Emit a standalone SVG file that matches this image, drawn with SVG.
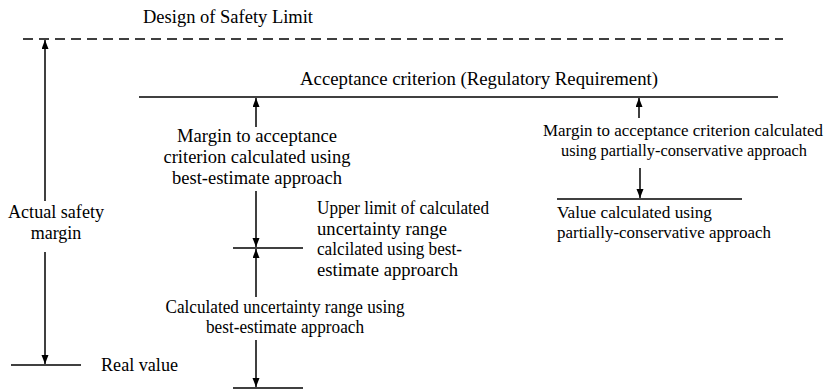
<svg xmlns="http://www.w3.org/2000/svg" width="829" height="392" viewBox="0 0 829 392">
<style>
  text { font-family: "Liberation Serif", "Times New Roman", serif; font-size: 18px; fill: #000; }
  .s { font-size: 17px; }
  .c { text-anchor: middle; }
  .ln { stroke: #000; stroke-width: 1.5; fill: none; }
  .dash { stroke-dasharray: 10 6; }
  .arr { stroke: #000; stroke-width: 1.5; fill: none; marker-end: url(#ah); }
</style>
<defs>
  <marker id="ah" markerUnits="userSpaceOnUse" markerWidth="10" markerHeight="8" refX="9" refY="3.5" orient="auto">
    <path d="M0,0 L9,3.5 L0,7 z" fill="#000"/>
  </marker>
</defs>
<rect width="829" height="392" fill="#fff"/>

<g id="design-limit">
  <line class="ln dash" x1="23" y1="39" x2="783" y2="39"/>
  <text x="143" y="23" textLength="170" lengthAdjust="spacingAndGlyphs">Design of Safety Limit</text>
</g>
<g id="acceptance">
  <line class="ln" x1="139" y1="97" x2="778" y2="97"/>
  <text x="300" y="85" textLength="358" lengthAdjust="spacingAndGlyphs">Acceptance criterion (Regulatory Requirement)</text>
</g>
<g id="actual-margin">
  <text class="c" x="56" y="218" textLength="96" lengthAdjust="spacingAndGlyphs">Actual safety</text>
  <text class="c" x="56" y="239">margin</text>
</g>
<g id="real-value">
  <line class="ln" x1="11" y1="365" x2="81" y2="365"/>
  <text x="101" y="371" textLength="77" lengthAdjust="spacingAndGlyphs">Real value</text>
</g>
<g id="margin-be">
  <text class="c" x="257" y="142" textLength="160" lengthAdjust="spacingAndGlyphs">Margin to acceptance</text>
  <text class="c" x="257" y="163" textLength="187" lengthAdjust="spacingAndGlyphs">criterion calculated using</text>
  <text class="c" x="257" y="184" textLength="170" lengthAdjust="spacingAndGlyphs">best-estimate approach</text>
</g>
<g id="upper-limit">
  <line class="ln" x1="233" y1="248" x2="303" y2="248"/>
  <text x="317" y="214" textLength="172" lengthAdjust="spacingAndGlyphs">Upper limit of calculated</text>
  <text x="317" y="235" textLength="130" lengthAdjust="spacingAndGlyphs">uncertainty range</text>
  <text x="317" y="255" textLength="145" lengthAdjust="spacingAndGlyphs">calcilated using best-</text>
  <text x="317" y="276" textLength="141" lengthAdjust="spacingAndGlyphs">estimate approarch</text>
</g>
<g id="uncertainty-range">
  <text class="c" x="285" y="313" textLength="239" lengthAdjust="spacingAndGlyphs">Calculated uncertainty range using</text>
  <text class="c" x="285" y="333" textLength="158" lengthAdjust="spacingAndGlyphs">best-estimate approach</text>
</g>
<g id="lower-limit">
  <line class="ln" x1="233" y1="388" x2="303" y2="388"/>
</g>
<g id="margin-pc">
  <text class="c s" x="683" y="136" textLength="280" lengthAdjust="spacingAndGlyphs">Margin to acceptance criterion calculated</text>
  <text class="c s" x="684" y="156" textLength="246" lengthAdjust="spacingAndGlyphs">using partially-conservative approach</text>
</g>
<g id="value-pc">
  <line class="ln" x1="557" y1="199" x2="742" y2="199"/>
  <text class="s" x="557" y="218" textLength="155" lengthAdjust="spacingAndGlyphs">Value calculated using</text>
  <text class="s" x="557" y="238" textLength="214" lengthAdjust="spacingAndGlyphs">partially-conservative approach</text>
</g>

<g id="connectors">
  <line class="arr" x1="45" y1="201" x2="45" y2="40"/>
  <line class="arr" x1="45" y1="252" x2="45" y2="364"/>
  <line class="arr" x1="256" y1="127" x2="256" y2="98"/>
  <line class="arr" x1="256" y1="191" x2="256" y2="247"/>
  <line class="arr" x1="256" y1="297" x2="256" y2="249"/>
  <line class="arr" x1="256" y1="340" x2="256" y2="387"/>
  <line class="arr" x1="639" y1="118" x2="639" y2="98"/>
  <line class="arr" x1="640" y1="168" x2="640" y2="198"/>
</g>
</svg>
